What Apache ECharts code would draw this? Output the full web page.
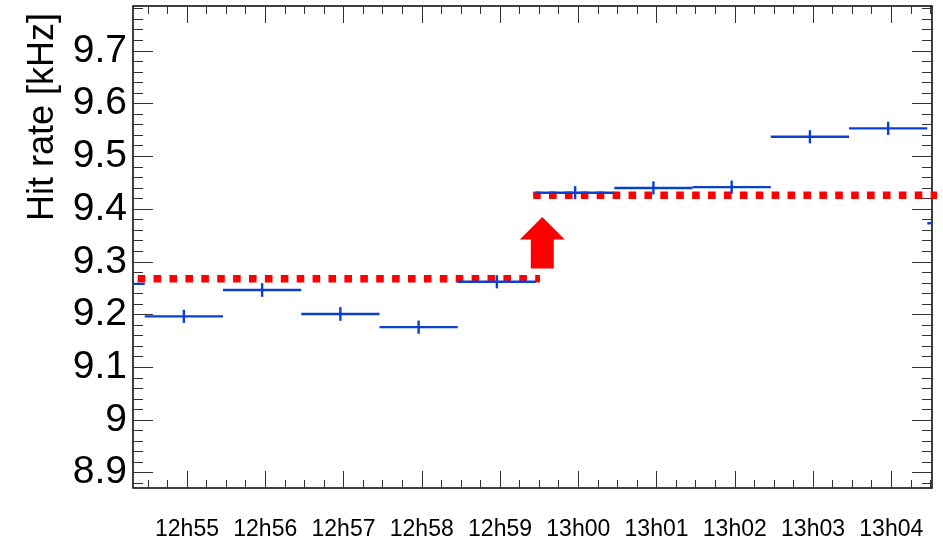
<!DOCTYPE html>
<html>
<head>
<meta charset="utf-8">
<script src="https://cdn.jsdelivr.net/npm/echarts@6/dist/echarts.min.js"></script>
<style>
  html, body { margin: 0; padding: 0; background: #fff; }
  #chart { width: 943px; height: 542px; }
</style>
</head>
<body>
<div id="chart"></div>
<script>
// Time axis in minutes after 12h00; ticks labelled as clock times.
const timeTicks = [55, 56, 57, 58, 59, 60, 61, 62, 63, 64];
const timeLabels = ['12h55', '12h56', '12h57', '12h58', '12h59', '13h00', '13h01', '13h02', '13h03', '13h04'];

// One-minute bins: lower edge of each bin, measured rate and its error (kHz)
const binLow = [53.46, 54.46, 55.46, 56.46, 57.46, 58.46, 59.46, 60.46, 61.46, 62.46, 63.46, 64.46];
const hitRate = [9.258, 9.1965, 9.2465, 9.201, 9.176, 9.262, 9.431, 9.440, 9.4415, 9.537, 9.553, 9.373];
const hitErr = [0.0125, 0.0125, 0.013, 0.013, 0.0125, 0.0125, 0.0125, 0.0125, 0.0125, 0.0125, 0.0125, 0.0125];

// Mean level before and after the step
const levelStart = [54.37, 59.423];
const levelEnd = [59.51, 64.6];
const levelValue = [9.2676, 9.426];

// Step marker
const arrowX = 59.54;
const arrowBase = 9.287;
const arrowHead = 9.342;
const arrowTip = 9.385;

// Axis ranges and tick positions
const xMin = 54.31, xMax = 64.52;
const yMin = 8.871, yMax = 9.785;
const yMajor = [8.9, 9.0, 9.1, 9.2, 9.3, 9.4, 9.5, 9.6, 9.7];

const xMinor = [];
for (let m = 54.5; m < xMax; m += 0.25) {
  if (Math.abs(m - Math.round(m)) > 0.01) xMinor.push(+m.toFixed(2));
}
const yMinor = [];
for (let k = 444; k <= 489; k++) {
  const v = k / 50;
  if (k % 5 !== 0 && v > yMin && v < yMax) yMinor.push(+v.toFixed(2));
}

const FONT = '"Liberation Sans", Arial, Helvetica, sans-serif';
const tickStyle = { color: '#333', width: 1 };

function xAxisDef(pos, values, len, labels) {
  return {
    type: 'value', position: pos, min: xMin, max: xMax,
    axisLine: { show: false }, splitLine: { show: false },
    axisTick: { show: true, inside: true, length: len, customValues: values, lineStyle: tickStyle },
    axisLabel: labels ? {
      show: true, customValues: timeTicks, margin: 30,
      fontFamily: FONT, fontSize: 23, color: '#000',
      formatter: v => timeLabels[timeTicks.indexOf(Math.round(v))] || ''
    } : { show: false }
  };
}
function yAxisDef(pos, values, len, labels) {
  return {
    type: 'value', position: pos, min: yMin, max: yMax,
    axisLine: { show: false }, splitLine: { show: false },
    axisTick: { show: true, inside: true, length: len, customValues: values, lineStyle: tickStyle },
    axisLabel: labels ? {
      show: true, customValues: yMajor, margin: 6,
      fontFamily: FONT, fontSize: 39, color: '#000',
      formatter: v => String(+(+v).toFixed(1))
    } : { show: false }
  };
}

const chart = echarts.init(document.getElementById('chart'), null, { renderer: 'canvas' });

const histData = binLow.map((lo, i) => [lo, hitRate[i], hitErr[i]]);

chart.setOption({
  animation: false,
  backgroundColor: '#fff',
  grid: {
    left: 133, right: 11, top: 6, bottom: 54,
    show: true, borderColor: '#000', borderWidth: 1.5, backgroundColor: 'transparent'
  },
  xAxis: [
    xAxisDef('bottom', timeTicks, 17, true),
    xAxisDef('bottom', xMinor, 8, false),
    xAxisDef('top', timeTicks, 17, false),
    xAxisDef('top', xMinor, 8, false)
  ],
  yAxis: [
    yAxisDef('left', yMajor, 20, true),
    yAxisDef('left', yMinor, 10, false),
    yAxisDef('right', yMajor, 20, false),
    yAxisDef('right', yMinor, 10, false)
  ],
  graphic: [{
    type: 'text',
    x: 43, y: 117,
    rotation: Math.PI / 2,
    style: {
      text: 'Hit rate [kHz]',
      font: '36px ' + FONT,
      fill: '#000',
      align: 'center',
      verticalAlign: 'middle'
    }
  }],
  series: [
    // Mean levels, drawn as thick dotted red lines
    ...levelValue.map((v, i) => ({
      type: 'line',
      xAxisIndex: 0, yAxisIndex: 0,
      data: [[levelStart[i], v], [levelEnd[i], v]],
      symbol: 'none',
      clip: true,
      z: 2,
      lineStyle: { color: '#ff0000', width: 7.5, type: [7.6, 8.3], cap: 'butt' }
    })),
    // Histogram bins with vertical error bars
    {
      type: 'custom',
      xAxisIndex: 0, yAxisIndex: 0,
      clip: true,
      z: 3,
      data: histData,
      renderItem: function (params, api) {
        const lo = api.value(0), v = api.value(1), e = api.value(2);
        const left = api.coord([lo, v]);
        const right = api.coord([lo + 1, v]);
        const mid = api.coord([lo + 0.5, v]);
        const top = api.coord([lo + 0.5, v + e]);
        const bot = api.coord([lo + 0.5, v - e]);
        const style = { stroke: '#0a3fd0', lineWidth: 2.4, fill: null };
        return {
          type: 'group',
          children: [
            { type: 'line', shape: { x1: left[0], y1: left[1], x2: right[0], y2: right[1] }, style: style },
            { type: 'line', shape: { x1: mid[0], y1: top[1], x2: mid[0], y2: bot[1] }, style: style }
          ]
        };
      }
    },
    // Upward arrow marking the step
    {
      type: 'custom',
      xAxisIndex: 0, yAxisIndex: 0,
      z: 4,
      data: [[arrowX, arrowBase, arrowHead, arrowTip]],
      renderItem: function (params, api) {
        const x = api.coord([api.value(0), api.value(1)])[0];
        const yb = api.coord([api.value(0), api.value(1)])[1];
        const yh = api.coord([api.value(0), api.value(2)])[1];
        const yt = api.coord([api.value(0), api.value(3)])[1];
        const bw = 11.5, hw = 22.5;
        return {
          type: 'polygon',
          shape: {
            points: [
              [x - bw, yb], [x + bw, yb], [x + bw, yh], [x + hw, yh],
              [x, yt], [x - hw, yh], [x - bw, yh]
            ]
          },
          style: { fill: '#ff0000' }
        };
      }
    }
  ]
});
</script>
</body>
</html>
